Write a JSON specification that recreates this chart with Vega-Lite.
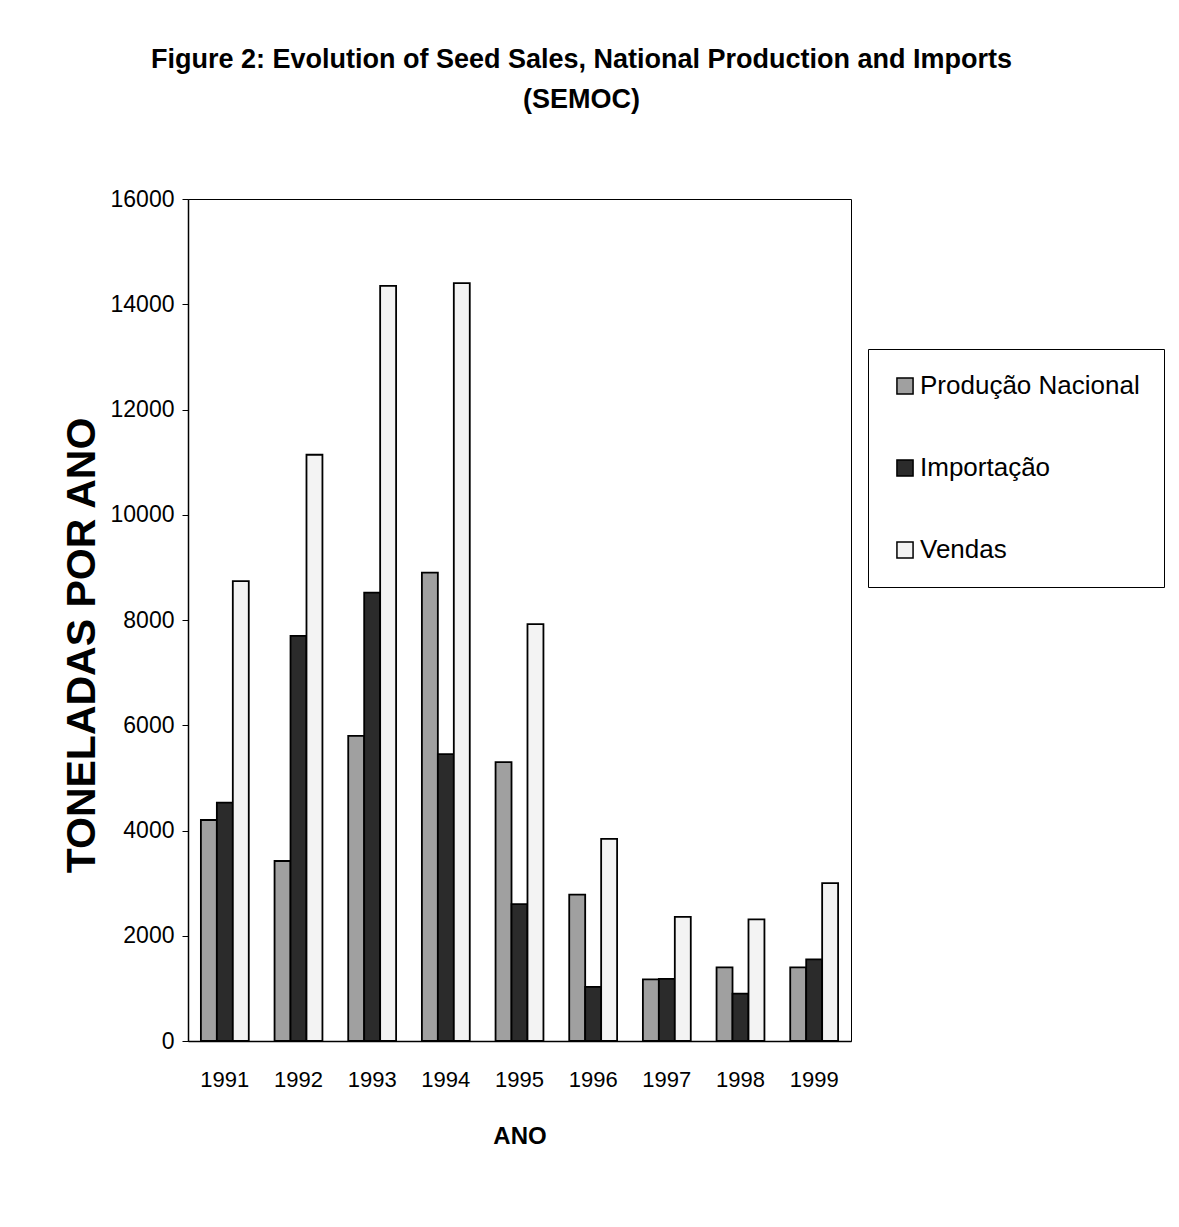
{
  "$schema": "https://vega.github.io/schema/vega-lite/v6.json",
  "width": 663,
  "height": 842,
  "autosize": {"type": "none"},
  "padding": {"left": 188, "top": 199, "right": 328, "bottom": 186},
  "background": "white",
  "title": {
    "text": ["Figure 2:  Evolution of Seed Sales, National Production and Imports", "(SEMOC)"],
    "font": "Liberation Sans",
    "fontSize": 27,
    "fontWeight": "bold",
    "color": "black",
    "anchor": "middle",
    "frame": "group",
    "dx": 62,
    "offset": 74,
    "lineHeight": 40
  },
  "data": {
    "values": [
      {"ano": "1991", "serie": "Produção Nacional", "valor": 4200},
      {"ano": "1991", "serie": "Importação", "valor": 4530},
      {"ano": "1991", "serie": "Vendas", "valor": 8740},
      {"ano": "1992", "serie": "Produção Nacional", "valor": 3420},
      {"ano": "1992", "serie": "Importação", "valor": 7700},
      {"ano": "1992", "serie": "Vendas", "valor": 11140},
      {"ano": "1993", "serie": "Produção Nacional", "valor": 5800},
      {"ano": "1993", "serie": "Importação", "valor": 8520},
      {"ano": "1993", "serie": "Vendas", "valor": 14350},
      {"ano": "1994", "serie": "Produção Nacional", "valor": 8900},
      {"ano": "1994", "serie": "Importação", "valor": 5450},
      {"ano": "1994", "serie": "Vendas", "valor": 14400},
      {"ano": "1995", "serie": "Produção Nacional", "valor": 5300},
      {"ano": "1995", "serie": "Importação", "valor": 2600},
      {"ano": "1995", "serie": "Vendas", "valor": 7920},
      {"ano": "1996", "serie": "Produção Nacional", "valor": 2780},
      {"ano": "1996", "serie": "Importação", "valor": 1030},
      {"ano": "1996", "serie": "Vendas", "valor": 3840},
      {"ano": "1997", "serie": "Produção Nacional", "valor": 1170},
      {"ano": "1997", "serie": "Importação", "valor": 1180},
      {"ano": "1997", "serie": "Vendas", "valor": 2360},
      {"ano": "1998", "serie": "Produção Nacional", "valor": 1400},
      {"ano": "1998", "serie": "Importação", "valor": 900},
      {"ano": "1998", "serie": "Vendas", "valor": 2310},
      {"ano": "1999", "serie": "Produção Nacional", "valor": 1400},
      {"ano": "1999", "serie": "Importação", "valor": 1550},
      {"ano": "1999", "serie": "Vendas", "valor": 3000}
    ]
  },
  "mark": {"type": "bar", "stroke": "black", "strokeWidth": 1.8},
  "encoding": {
    "x": {
      "field": "ano",
      "type": "nominal",
      "title": "ANO",
      "scale": {"paddingInner": 0.35, "paddingOuter": 0.175},
      "axis": {
        "labelAngle": 0,
        "labelFont": "Liberation Sans",
        "labelFontSize": 22,
        "labelColor": "black",
        "labelPadding": 28,
        "tickSize": 0,
        "domainColor": "black",
        "domainWidth": 1.5,
        "titleFont": "Liberation Sans",
        "titleFontSize": 24,
        "titleFontWeight": "bold",
        "titleColor": "black",
        "titlePadding": 34
      }
    },
    "xOffset": {"field": "serie", "type": "nominal", "sort": ["Produção Nacional", "Importação", "Vendas"]},
    "y": {
      "field": "valor",
      "type": "quantitative",
      "title": "TONELADAS POR ANO",
      "scale": {"domain": [0, 16000], "nice": false},
      "axis": {
        "values": [0, 2000, 4000, 6000, 8000, 10000, 12000, 14000, 16000],
        "grid": false,
        "format": "d",
        "labelFont": "Liberation Sans",
        "labelFontSize": 23,
        "labelColor": "black",
        "labelPadding": 8,
        "tickSize": 6,
        "tickColor": "black",
        "domainColor": "black",
        "domainWidth": 1.5,
        "titleFont": "Liberation Sans",
        "titleFontSize": 41,
        "titleFontWeight": "bold",
        "titleColor": "black",
        "titlePadding": 7,
        "titleY": 446
      }
    },
    "fill": {
      "field": "serie",
      "type": "nominal",
      "sort": ["Produção Nacional", "Importação", "Vendas"],
      "scale": {"domain": ["Produção Nacional", "Importação", "Vendas"], "range": ["#a0a0a0", "#2b2b2b", "#f3f3f3"]},
      "legend": {
        "title": null,
        "orient": "none",
        "legendX": 680,
        "legendY": 150,
        "padding": 24,
        "rowPadding": 56,
        "strokeColor": "black",
        "fillColor": "white",
        "symbolType": "square",
        "symbolSize": 260,
        "symbolStrokeColor": "black",
        "symbolStrokeWidth": 1.5,
        "symbolOffset": 0,
        "labelFont": "Liberation Sans",
        "labelFontSize": 26,
        "labelColor": "black",
        "labelOffset": 2,
        "labelLimit": 400
      }
    }
  },
  "config": {
    "view": {"stroke": "black", "strokeWidth": 1}
  }
}
